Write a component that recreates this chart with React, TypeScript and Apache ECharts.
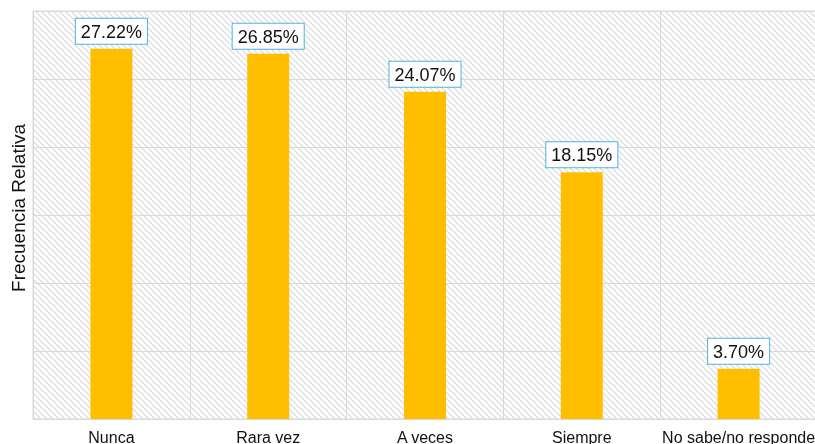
import React, { useEffect, useRef } from "react";
import * as echarts from "echarts";

const categories = ["Nunca", "Rara vez", "A veces", "Siempre", "No sabe/no responde"];
const values = [27.22, 26.85, 24.07, 18.15, 3.7];
const yAxisName = "Frecuencia Relativa";

function makePattern(): HTMLCanvasElement {
  const size = 6;
  const c = document.createElement("canvas");
  c.width = size;
  c.height = size;
  const ctx = c.getContext("2d")!;
  ctx.fillStyle = "#ffffff";
  ctx.fillRect(0, 0, size, size);
  ctx.strokeStyle = "#d9d9d9";
  ctx.lineWidth = 1.2;
  ctx.beginPath();
  ctx.moveTo(-1, -1);
  ctx.lineTo(size + 1, size + 1);
  ctx.moveTo(-1, size - 1);
  ctx.lineTo(1, size + 1);
  ctx.moveTo(size - 1, -1);
  ctx.lineTo(size + 1, 1);
  ctx.stroke();
  return c;
}

export default function App() {
  const ref = useRef<HTMLDivElement>(null);
  useEffect(() => {
    if (!ref.current) return;
    const chart = echarts.init(ref.current, undefined, { renderer: "svg" });
    const pattern = makePattern();
    chart.setOption({
      animation: false,
      textStyle: { fontFamily: "Liberation Sans, Arial, sans-serif" },
      grid: {
        left: 33,
        top: 11,
        right: -2,
        bottom: 25,
        containLabel: false,
        outerBoundsMode: "none",
        show: true,
        backgroundColor: { image: pattern, repeat: "repeat" } as any,
        borderColor: "#d9d9d9",
        borderWidth: 1,
      } as any,
      xAxis: {
        type: "category",
        data: categories,
        axisLine: { show: true, lineStyle: { color: "#d9d9d9", width: 1 } },
        axisTick: { show: false },
        axisLabel: { color: "#111", fontSize: 16, margin: 10, interval: 0 },
        splitLine: { show: true, interval: 0, lineStyle: { color: "#d9d9d9", width: 1 } },
      },
      yAxis: {
        type: "value",
        min: 0,
        max: 30,
        interval: 5,
        name: yAxisName,
        nameLocation: "middle",
        nameGap: 5,
        nameTextStyle: { fontSize: 19, color: "#111", padding: [0, 0, 0, 14] },
        axisLabel: { show: false },
        axisLine: { show: false },
        axisTick: { show: false },
        splitLine: { show: true, lineStyle: { color: "#d9d9d9", width: 1 } },
      },
      series: [
        {
          type: "bar",
          data: values,
          barWidth: 42,
          itemStyle: { color: "#FFBF00" },
          label: {
            show: true,
            position: "top",
            distance: 5,
            formatter: (p: any) => p.value.toFixed(2) + "%",
            fontSize: 18,
            color: "#111",
            backgroundColor: "#ffffff",
            borderColor: "#4cb3e6",
            borderWidth: 1,
            padding: [4, 5, 3, 5],
          },
        },
      ],
    });
    return () => chart.dispose();
  }, []);
  return (
    <div
      ref={ref}
      style={{ position: "fixed", left: 0, top: 0, width: 815, height: 444 }}
    />
  );
}
